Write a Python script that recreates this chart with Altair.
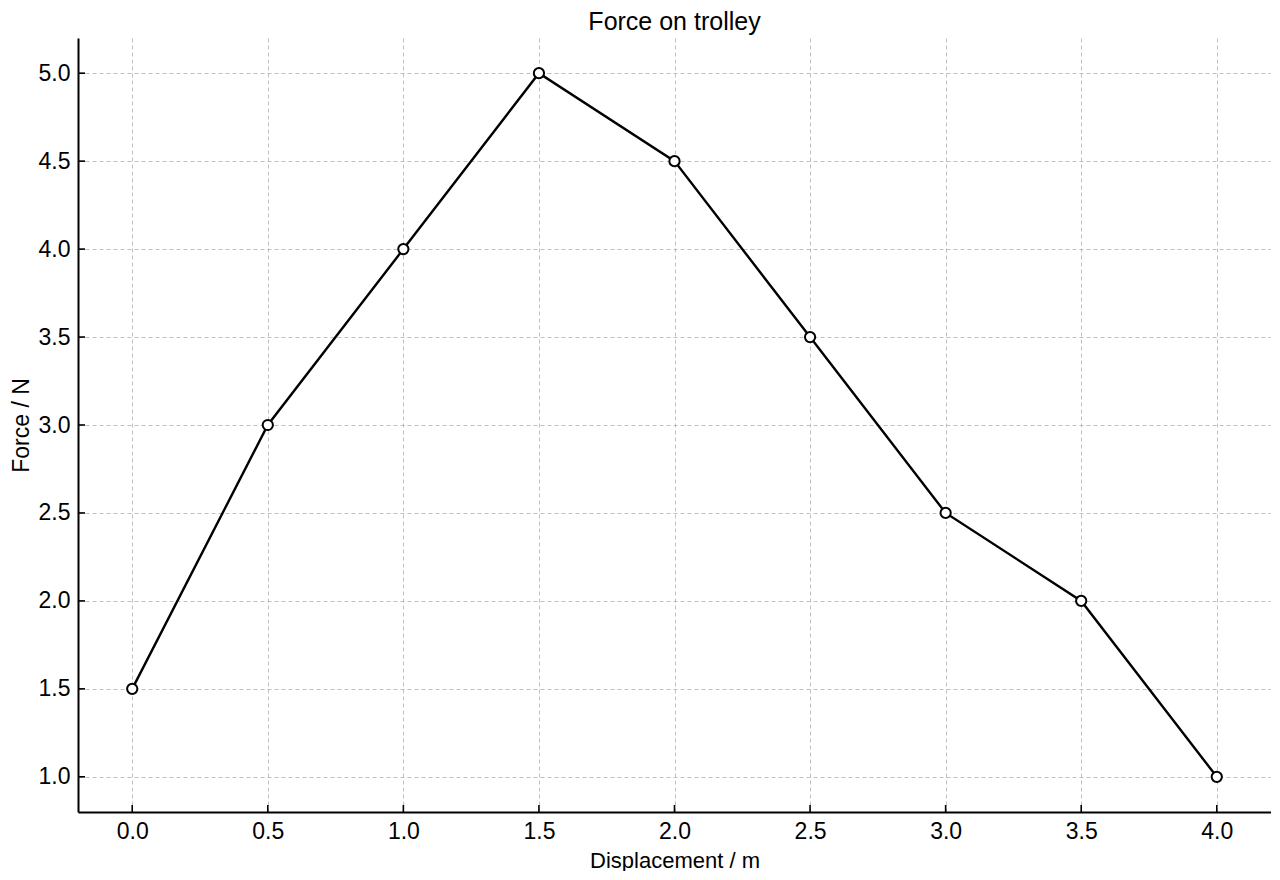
import altair as alt
import pandas as pd

displacement = [0.0, 0.5, 1.0, 1.5, 2.0, 2.5, 3.0, 3.5, 4.0]
force = [1.5, 3.0, 4.0, 5.0, 4.5, 3.5, 2.5, 2.0, 1.0]
x_ticks = [0.0, 0.5, 1.0, 1.5, 2.0, 2.5, 3.0, 3.5, 4.0]
y_ticks = [1.0, 1.5, 2.0, 2.5, 3.0, 3.5, 4.0, 4.5, 5.0]

df = pd.DataFrame({"x": displacement, "y": force})
xt = pd.DataFrame({"x": x_ticks})
yt = pd.DataFrame({"y": y_ticks})

W, H = 1193, 774
FONT = "Liberation Sans"

xscale = alt.Scale(domain=[-0.2, 4.2], nice=False, zero=False)
yscale = alt.Scale(domain=[0.8, 5.2], nice=False, zero=False)

xaxis = alt.Axis(values=x_ticks, format=".1f", title="Displacement / m",
                 labelPadding=8, titlePadding=7, titleFontSize=22)
yaxis = alt.Axis(values=y_ticks, format=".1f", title="Force / N",
                 labelPadding=8, titlePadding=5)

X = alt.X("x:Q", scale=xscale, axis=xaxis)
Y = alt.Y("y:Q", scale=yscale, axis=yaxis)

line = alt.Chart(df).mark_line(color="black", strokeWidth=2.4).encode(x=X, y=Y)
pts = alt.Chart(df).mark_point(shape="circle", filled=True, fill="white", stroke="black",
                               strokeWidth=2, size=105, opacity=1).encode(x=X, y=Y)
xtick = alt.Chart(xt).mark_rule(color="black", strokeWidth=1.6).encode(
    x=X, y=alt.value(H), y2=alt.value(H - 7),
)
ytick = alt.Chart(yt).mark_rule(color="black", strokeWidth=1.6).encode(
    y=Y, x=alt.value(0), x2=alt.value(7),
)

chart = alt.layer(line, xtick, ytick, pts).properties(
    width=W, height=H,
    padding={"left": 2, "top": 2, "right": 0, "bottom": 0},
    title=alt.TitleParams("Force on trolley", font=FONT, fontSize=25,
                          fontWeight="normal", color="black", offset=3),
).configure_view(stroke=None).configure_axis(
    grid=True, gridDash=[4, 3], gridColor="#b0b0b0", gridWidth=0.8,
    tickSize=0, domainColor="black", domainWidth=2,
    labelFontSize=23, titleFontSize=23, labelFont=FONT, titleFont=FONT,
    labelColor="black", titleColor="black", titleFontWeight="normal",
)

chart.save("out.html", embed_options={"renderer": "svg", "actions": False})
